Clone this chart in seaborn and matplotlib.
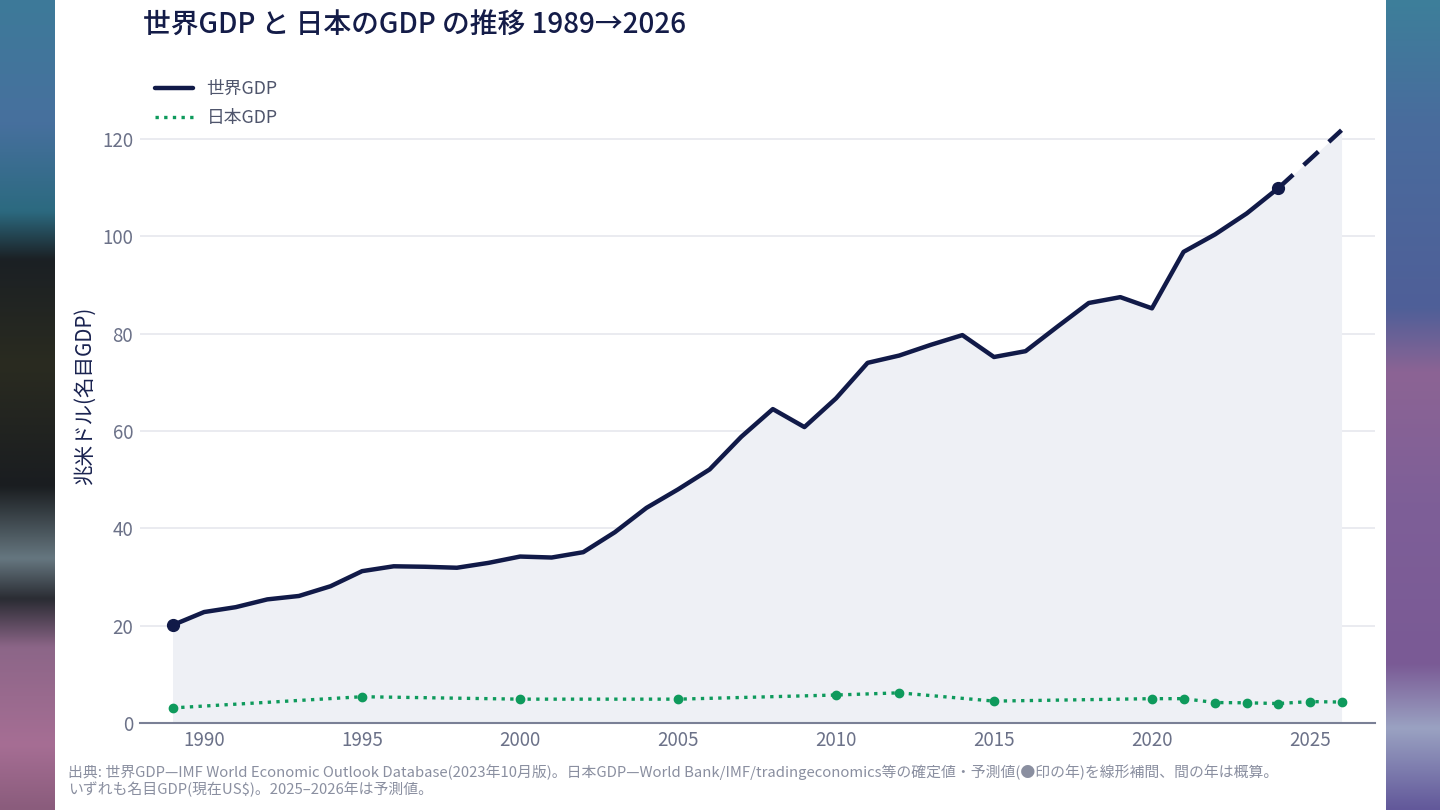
import numpy as np
import pandas as pd
import matplotlib
matplotlib.use("Agg")
import matplotlib.pyplot as plt
import seaborn as sns

# ------------ DATA ------------
years_world = list(range(1989, 2027))
world_gdp = [20.1, 22.8, 23.8, 25.4, 26.1, 28.1, 31.2, 32.2, 32.1, 31.9,
             32.9, 34.2, 34.0, 35.1, 39.2, 44.2, 48.0, 52.1, 58.8, 64.5,
             60.8, 66.7, 74.0, 75.5, 77.7, 79.7, 75.2, 76.4, 81.4, 86.3,
             87.5, 85.2, 96.8, 100.4, 104.7, 109.9, 115.8, 121.8]
world_marked_years = [1989, 2024]
forecast_start = 2024

# Japan: confirmed / forecast years (● marks); the chart joins them with straight lines
years_japan = [1989, 1995, 2000, 2005, 2010, 2012, 2015, 2020, 2021, 2022, 2023, 2024, 2025, 2026]
japan_gdp = [3.1, 5.4, 4.9, 4.9, 5.75, 6.2, 4.5, 5.0, 5.0, 4.2, 4.15, 4.0, 4.4, 4.3]

y_ticks = [0, 20, 40, 60, 80, 100, 120]
x_ticks = [1990, 1995, 2000, 2005, 2010, 2015, 2020, 2025]

TITLE = "世界GDP と 日本のGDP の推移 1989→2026"
YLABEL = "兆米ドル(名目GDP)"
FOOTER = ("出典: 世界GDP—IMF World Economic Outlook Database(2023年10月版)。日本GDP—World Bank/IMF/tradingeconomics等の確定値・予測値(●印の年)を線形補間、間の年は概算。\n"
          "いずれも名目GDP(現在US$)。2025–2026年は予測値。")

NAVY = "#111a48"
GREEN = "#0e9a5c"
FILL = "#eef0f5"
GRID = "#e4e6ec"
TICK = "#6b7188"

world = pd.DataFrame({"year": years_world, "gdp": world_gdp})
japan = pd.DataFrame({"year": years_japan, "gdp": japan_gdp})
world_hist = world[world["year"] <= forecast_start]
world_fc = world[world["year"] >= forecast_start]
world_marks = world[world["year"].isin(world_marked_years)]

# ------------ STYLE ------------
sns.set_theme(style="white")
plt.rcParams["font.family"] = ["Noto Sans CJK JP", "DejaVu Sans"]

W, H = 1440, 810
fig = plt.figure(figsize=(W / 100, H / 100), dpi=100)

# blurred backdrop strips left and right of the card
def strip(rect, stops):
    pos = np.array([s[0] for s in stops])
    cols = np.array([matplotlib.colors.to_rgb(s[1]) for s in stops])
    t = np.linspace(0, 1, 400)
    img = np.stack([np.interp(t, pos, cols[:, i]) for i in range(3)], axis=1)
    bax = fig.add_axes(rect)
    bax.imshow(img[:, None, :], aspect="auto", interpolation="bicubic")
    bax.axis("off")

strip([0, 0, 55 / W, 1], [(0.0, "#3d7a99"), (0.15, "#47709e"), (0.26, "#2c6a80"),
                          (0.32, "#1b2024"), (0.45, "#2a2b20"), (0.60, "#1a1d20"),
                          (0.69, "#667780"), (0.74, "#2a2c33"), (0.80, "#8c6688"),
                          (0.92, "#a66e94"), (1.0, "#8a5c7c")])
strip([1386 / W, 0, 54 / W, 1], [(0.0, "#3d7f9a"), (0.15, "#496c9d"), (0.38, "#4f5f98"),
                                 (0.46, "#8c6494"), (0.62, "#7e5f98"), (0.82, "#7a5a95"),
                                 (0.90, "#9aa2c2"), (1.0, "#62589a")])
card = fig.add_axes([55 / W, 0, (1386 - 55) / W, 1])
card.set_facecolor("white")
card.set_xticks([])
card.set_yticks([])
for s in card.spines.values():
    s.set_visible(False)

# ------------ PLOT ------------
ax = fig.add_axes([140 / W, (H - 723) / H, (1375 - 140) / W, (723 - 119.5) / H])
ax.set_facecolor("none")

ax.fill_between(world["year"], 0, world["gdp"], color=FILL, lw=0, zorder=1)
sns.lineplot(data=world_hist, x="year", y="gdp", ax=ax, color=NAVY, lw=3.2,
             label="世界GDP", zorder=4)
sns.lineplot(data=world_fc, x="year", y="gdp", ax=ax, color=NAVY, lw=3.2,
             dashes=False, zorder=4)
ax.lines[-1].set_dashes([4.5, 3.2])
ax.plot(world_marks["year"], world_marks["gdp"], "o", color=NAVY, ms=8.5, zorder=5)
sns.lineplot(data=japan, x="year", y="gdp", ax=ax, color=GREEN, lw=2.4,
             label="日本GDP", zorder=3)
ax.lines[-1].set_linestyle((0, (1, 1.6)))
ax.plot(japan["year"], japan["gdp"], "o", color=GREEN, ms=6, zorder=5)

ax.set_xlim(1987.97, 2027.06)
ax.set_ylim(0, 124)
ax.set_yticks(y_ticks)
ax.set_xticks(x_ticks)
ax.yaxis.grid(True, color=GRID, lw=1.1, zorder=0)
ax.xaxis.grid(False)
ax.tick_params(axis="both", length=0, labelsize=13.5, labelcolor=TICK)
ax.tick_params(axis="y", pad=5)
ax.tick_params(axis="x", pad=5)
ax.set_xlabel("")
ax.set_ylabel("")
for side in ["top", "right", "left"]:
    ax.spines[side].set_visible(False)
ax.spines["bottom"].set_color("#7a8096")
ax.spines["bottom"].set_linewidth(1.5)

leg = ax.legend(loc="upper left", bbox_to_anchor=(155 / W, (H - 80) / H),
                bbox_transform=fig.transFigure, frameon=False, fontsize=12.8,
                handlelength=2.15, handletextpad=0.75, labelspacing=0.62,
                borderpad=0, borderaxespad=0)
for t in leg.get_texts():
    t.set_color("#4f556c")
leg.get_lines()[1].set_linestyle((0, (1, 1.6)))

# ------------ TEXT ------------
fig.text(143 / W, (H - 25) / H, TITLE, fontsize=20, fontweight="medium",
         color="#141c48", va="center", ha="left")
fig.text(85 / W, (H - 396) / H, YLABEL, fontsize=14.8, color="#1a2350",
         rotation=90, va="center", ha="center")
fig.text(68 / W, (H - 780.5) / H, FOOTER, fontsize=10.7, color="#8a8fa0",
         va="center", ha="left", linespacing=1.15)

fig.savefig("out.png", dpi=100)
